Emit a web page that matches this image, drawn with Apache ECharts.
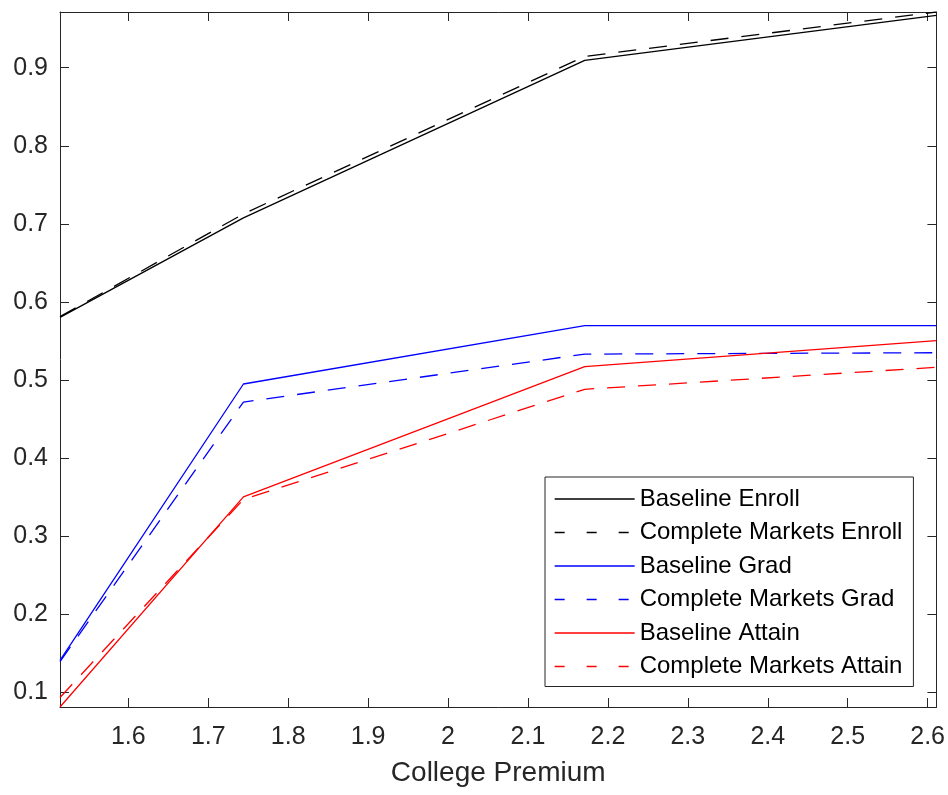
<!DOCTYPE html>
<html>
<head>
<meta charset="utf-8">
<script src="https://cdn.jsdelivr.net/npm/echarts@6/dist/echarts.min.js"></script>
<style>
  html, body { margin: 0; padding: 0; background: #fff; }
  #chart { width: 948px; height: 795px; }
</style>
</head>
<body>
<div id="chart"></div>
<script>
// college premium (x) and outcome shares (y)
var premium = [1.5145, 1.744, 2.171, 2.611];
var baseEnroll = [0.580, 0.7076, 0.9094, 0.967];
var cmEnroll = [0.581, 0.7127, 0.9145, 0.9714];
var baseGrad = [0.1406, 0.4947, 0.5695, 0.5695];
var cmGrad = [0.139, 0.4716, 0.533, 0.5348];
var baseAttain = [0.0808, 0.350, 0.5169, 0.5502];
var cmAttain = [0.093, 0.3468, 0.4879, 0.5161];

var names = ['Baseline Enroll', 'Complete Markets Enroll', 'Baseline Grad',
  'Complete Markets Grad', 'Baseline Attain', 'Complete Markets Attain'];
var values = [baseEnroll, cmEnroll, baseGrad, cmGrad, baseAttain, cmAttain];
var colors = ['#000000', '#000000', '#0000ff', '#0000ff', '#ff0000', '#ff0000'];
var dashed = [false, true, false, true, false, true];

var allY = [].concat.apply([], values);
var xMin = premium[0], xMax = premium[premium.length - 1];
var yMin = Math.min.apply(null, allY), yMax = Math.max.apply(null, allY);

var axisColor = '#262626';
var font = 'Liberation Sans, Arial, Helvetica, sans-serif';

function xAx(pos, labels) {
  return {
    type: 'value', position: pos, min: xMin, max: xMax, splitNumber: 10,
    name: labels ? 'College Premium' : '', nameLocation: 'middle', nameGap: 52,
    nameTextStyle: { color: axisColor, fontSize: 28, fontFamily: font },
    axisLine: { show: true, onZero: false, lineStyle: { color: axisColor, width: 1 } },
    axisTick: { show: true, inside: true, length: 9, lineStyle: { color: axisColor } },
    axisLabel: { show: labels, margin: 18, color: axisColor, fontSize: 25, fontFamily: font,
      showMinLabel: false, showMaxLabel: false },
    splitLine: { show: false }
  };
}
function yAx(pos, labels) {
  return {
    type: 'value', position: pos, min: yMin, max: yMax, splitNumber: 9,
    axisLine: { show: true, onZero: false, lineStyle: { color: axisColor, width: 1 } },
    axisTick: { show: true, inside: true, length: 9, lineStyle: { color: axisColor } },
    axisLabel: { show: labels, margin: 12, color: axisColor, fontSize: 25, fontFamily: font,
      showMinLabel: false, showMaxLabel: false },
    splitLine: { show: false }
  };
}

var series = names.map(function (n, i) {
  return {
    name: n,
    type: 'line',
    symbol: 'none',
    animation: false,
    data: premium.map(function (x, j) { return [x, values[i][j]]; }),
    lineStyle: { color: colors[i], width: 1.3, type: dashed[i] ? [18, 13] : 'solid' },
    itemStyle: { color: colors[i] }
  };
});

var chart = echarts.init(document.getElementById('chart'));
chart.setOption({
  backgroundColor: '#fff',
  animation: false,
  grid: { left: 60, right: 11, top: 12, bottom: 88 },
  xAxis: [xAx('bottom', true), xAx('top', false)],
  yAxis: [yAx('left', true), yAx('right', false)],
  legend: {
    show: true,
    orient: 'vertical',
    left: 545, top: 477,
    padding: [10, 11, 8, 9],
    itemWidth: 80, itemHeight: 20, itemGap: 9.5,
    backgroundColor: '#fff',
    borderColor: axisColor, borderWidth: 1,
    itemStyle: { opacity: 0 },
    textStyle: { color: '#000', fontSize: 24, fontFamily: font },
    data: names.map(function (n, i) {
      return {
        name: n,
        lineStyle: { color: colors[i], width: 1.3, type: dashed[i] ? [10, 22] : 'solid' }
      };
    })
  },
  series: series
});
</script>
</body>
</html>
